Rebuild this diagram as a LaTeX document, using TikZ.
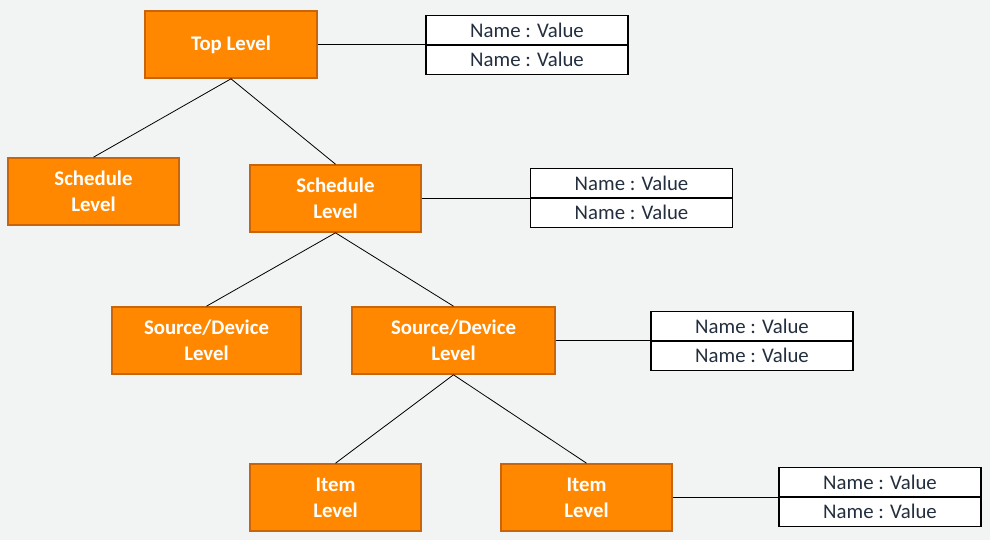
\documentclass[tikz,border=0pt]{standalone}
\usepackage{fontspec}
\setmainfont{Carlito}
\definecolor{bg}{HTML}{F2F3F3}
\definecolor{orfill}{HTML}{FF8800}
\definecolor{ordraw}{HTML}{C8640A}
\definecolor{navy}{HTML}{232F3E}
\begin{document}
\begin{tikzpicture}[x=1pt,y=-1pt,
  lvl/.style={draw=ordraw,line width=1.6pt,fill=orfill,text=white,font=\fontsize{20.8}{26}\selectfont\bfseries,align=center,inner sep=0pt,minimum height=67pt},
  nv/.style={draw=black,line width=1.6pt,fill=white,text=navy,font=\fontsize{20.8}{26}\selectfont,inner sep=0pt,minimum width=202pt,minimum height=29.5pt},
  con/.style={draw=black,line width=0.8pt}]
\fill[bg] (0,0) rectangle (990,540);
\useasboundingbox (0,0) rectangle (990,540);
\node[lvl,minimum width=172pt] (top) at (231,44.5) {Top Level};
\node[lvl,minimum width=171pt] (schL) at (93.5,191.5) {Schedule\\Level};
\node[lvl,minimum width=171pt] (schR) at (335.5,198.5) {Schedule\\Level};
\node[lvl,minimum width=189pt] (srcL) at (206.5,340.5) {Source/Device\\Level};
\node[lvl,minimum width=203pt] (srcR) at (453.5,340.5) {Source/Device\\Level};
\node[lvl,minimum width=171pt] (itL) at (335.5,497.5) {Item\\Level};
\node[lvl,minimum width=171pt] (itR) at (586.5,497.5) {Item\\Level};
\node[nv] (n1a) at (527,30.25) {Name : Value};
\node[nv] (n1b) at (527,59.75) {Name : Value};
\node[nv] (n2a) at (631.5,183.25) {Name : Value};
\node[nv] (n2b) at (631.5,212.75) {Name : Value};
\node[nv] (n3a) at (752,326.25) {Name : Value};
\node[nv] (n3b) at (752,355.75) {Name : Value};
\node[nv] (n4a) at (880,482.25) {Name : Value};
\node[nv] (n4b) at (880,511.75) {Name : Value};
\draw[con] (top.south) -- (schL.north);
\draw[con] (top.south) -- (schR.north);
\draw[con] (schR.south) -- (srcL.north);
\draw[con] (schR.south) -- (srcR.north);
\draw[con] (srcR.south) -- (itL.north);
\draw[con] (srcR.south) -- (itR.north);
\draw[con] (top.east) -- (top.east -| n1a.west);
\draw[con] (schR.east) -- (schR.east -| n2a.west);
\draw[con] (srcR.east) -- (srcR.east -| n3a.west);
\draw[con] (itR.east) -- (itR.east -| n4a.west);
\end{tikzpicture}
\end{document}
